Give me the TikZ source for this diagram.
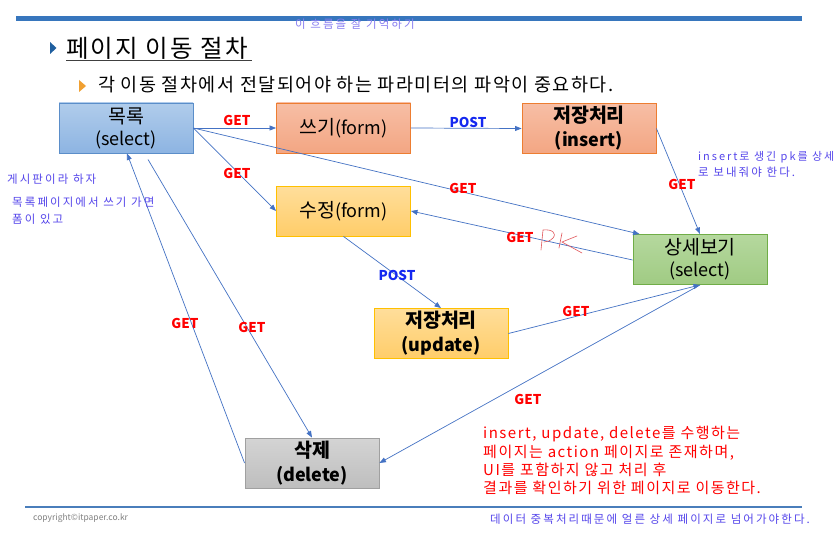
\documentclass[tikz,border=0pt]{standalone}
\usepackage{fontspec}
\setmainfont{Noto Sans CJK KR}
\newfontfamily\notefont{Noto Sans CJK KR}[LetterSpace=18]
\newfontfamily\titlefont{Noto Sans CJK KR}[LetterSpace=9]
\newfontfamily\subfont{Noto Sans CJK KR}[LetterSpace=8]
\newfontfamily\redfont{Noto Sans CJK KR}[LetterSpace=10]
\usetikzlibrary{arrows.meta}
\definecolor{edgeblue}{RGB}{68,114,196}
\definecolor{barblue}{RGB}{55,118,189}
\definecolor{notecol}{RGB}{85,70,235}
\definecolor{getred}{RGB}{255,0,0}
\definecolor{postblue}{RGB}{20,40,240}
\definecolor{pkred}{RGB}{225,85,90}
\definecolor{bluedraw}{RGB}{91,142,201}
\definecolor{bluetop}{RGB}{176,204,235}
\definecolor{bluebot}{RGB}{141,180,226}
\definecolor{orgdraw}{RGB}{237,125,49}
\definecolor{orgtop}{RGB}{247,190,165}
\definecolor{orgbot}{RGB}{243,166,131}
\definecolor{yeldraw}{RGB}{255,192,0}
\definecolor{yeltop}{RGB}{255,222,155}
\definecolor{yelbot}{RGB}{255,205,105}
\definecolor{grndraw}{RGB}{112,173,71}
\definecolor{grntop}{RGB}{181,216,158}
\definecolor{grnbot}{RGB}{160,203,131}
\definecolor{gradraw}{RGB}{160,160,160}
\definecolor{gratop}{RGB}{212,212,212}
\definecolor{grabot}{RGB}{190,190,190}
\definecolor{tri1}{RGB}{31,95,159}
\definecolor{tri2}{RGB}{240,160,50}
\definecolor{footline}{RGB}{74,126,187}
\newcommand{\kbig}[1]{{\fontsize{19.5}{22}\selectfont #1}}
\tikzset{
  box/.style={draw, line width=0.9pt, minimum width=134pt, minimum height=50pt, inner sep=0pt, align=center, font=\fontsize{18}{22}\selectfont},
  boldbox/.style={font=\fontsize{18}{24}\selectfont\bfseries},
  bluebox/.style={box, draw=bluedraw, top color=bluetop, bottom color=bluebot},
  orangebox/.style={box, draw=orgdraw, top color=orgtop, bottom color=orgbot},
  yellowbox/.style={box, draw=yeldraw, top color=yeltop, bottom color=yelbot},
  greenbox/.style={box, draw=grndraw, top color=grntop, bottom color=grnbot},
  graybox/.style={box, draw=gradraw, top color=gratop, bottom color=grabot},
  conn/.style={draw=edgeblue, line width=0.7pt, -{Triangle[length=6.5pt,width=5pt]}},
  getlbl/.style={text=getred, font=\fontsize{13.5}{14}\selectfont\bfseries, inner sep=0pt},
  postlbl/.style={text=postblue, font=\fontsize{13.5}{14}\selectfont\bfseries, inner sep=0pt},
  note/.style={text=notecol, font=\notefont\fontsize{11.5}{15}\selectfont, inner sep=0pt, anchor=west},
}
\begin{document}
\begin{tikzpicture}[x=1pt,y=-1pt]
\useasboundingbox (0,0) rectangle (836,535);
\fill[white] (0,0) rectangle (836,535);
% header
\fill[barblue] (16,16.5) rectangle (802,21);
\node[note, text=notecol!70] (memo) at (295,24.5) {이 흐름을 잘 기억하기};
\fill[tri1] (50,42) -- (56.5,48) -- (50,54) -- cycle;
\node[anchor=west, inner sep=0pt, font=\titlefont\fontsize{24.5}{28}\selectfont] (title) at (66,48) {페이지 이동 절차};
\draw[line width=1.2pt, black!75] (66,60.5) -- (252,60.5);
\fill[tri2] (79,80) -- (86,86) -- (79,92) -- cycle;
\node[anchor=west, inner sep=0pt, font=\subfont\fontsize{18.5}{22}\selectfont] (sub) at (98,85) {각 이동 절차에서 전달되어야 하는 파라미터의 파악이 중요하다.};
% boxes
\node[bluebox] (list) at (126,128) {\kbig{목록}\\(select)};
\node[orangebox] (write) at (343.5,128) {\kbig{쓰기}(form)};
\node[orangebox, boldbox] (ins) at (589,128.5) {\kbig{저장처리}\\(insert)};
\node[yellowbox] (mod) at (343.5,211) {\kbig{수정}(form)};
\node[greenbox] (detail) at (700,259.5) {\kbig{상세보기}\\(select)};
\node[yellowbox, boldbox] (upd) at (441,333.5) {\kbig{저장처리}\\(update)};
\node[graybox, boldbox] (del) at (312,463) {\kbig{삭제}\\(delete)};
% connectors
\draw[conn] (list.east) -- (write.west);
\draw[conn] (write.east) -- (ins.west);
\draw[conn] (list.east) -- (mod.west);
\draw[conn] (list.east) -- ([xshift=7pt]detail.north west);
\draw[conn] (ins.east) -- (detail.north);
\draw[conn] ([yshift=-0.5pt]detail.west) -- (mod.east);
\draw[conn] (mod.south) -- (upd.north);
\draw[conn] (upd.east) -- (detail.south);
\draw[conn] (detail.south) -- (del.east);
\draw[conn] ([xshift=22pt,yshift=-6pt]list.south) -- (del.north);
\draw[conn] (del.west) -- ([xshift=1pt]list.south);
% labels
\node[getlbl] (g1) at (237,120) {GET};
\node[postlbl] (p1) at (468,122) {POST};
\node[getlbl] (g2) at (237,173) {GET};
\node[getlbl] (g3) at (463,188) {GET};
\node[getlbl] (g4) at (682,184) {GET};
\node[getlbl] (g5) at (520,237) {GET};
\node[postlbl] (p2) at (397,275) {POST};
\node[getlbl] (g6) at (576,311) {GET};
\node[getlbl] (g7) at (528,399) {GET};
\node[getlbl] (g8) at (252,327) {GET};
\node[getlbl] (g9) at (185,323) {GET};
% handwritten PK
\draw[pkred, line width=0.6pt, line cap=round, line join=round]
  (543,230) -- (541,250)
  (543,230) .. controls (552,229) and (557,233) .. (553,238) .. controls (550,241) and (547,242) .. (544,242);
\draw[pkred, line width=0.6pt, line cap=round] (562,233) -- (559,248) (577,236) -- (562,242) -- (582,253);
% notes
\node[note] (n1) at (7,179) {게시판이라 하자};
\node[note] (n2) at (12,202) {목록페이지에서 쓰기 가면};
\node[note] (n3) at (12,219) {폼이 있고};
\node[note, font=\notefont\fontsize{11}{15}\selectfont] (n4) at (698,157) {insert로 생긴 pk를 상세};
\node[note] (n5) at (698,172) {로 보내줘야 한다.};
\node[anchor=north west, align=left, inner sep=0pt, text=getred, font=\redfont\fontsize{15}{18.4}\selectfont] (red) at (483,426)
  {insert, update, delete를 수행하는\\페이지는 action 페이지로 존재하며,\\UI를 포함하지 않고 처리 후\\결과를 확인하기 위한 페이지로 이동한다.};
% footer
\draw[line width=1.4pt, footline] (25,507) -- (802,507);
\node[anchor=west, inner sep=0pt, text=black!50, font=\fontsize{8.5}{10}\selectfont] (copy) at (33,518) {copyright©itpaper.co.kr};
\node[note] (n6) at (490,519) {데이터 중복처리때문에 얼른 상세 페이지로 넘어가야한다.};
\end{tikzpicture}
\end{document}
